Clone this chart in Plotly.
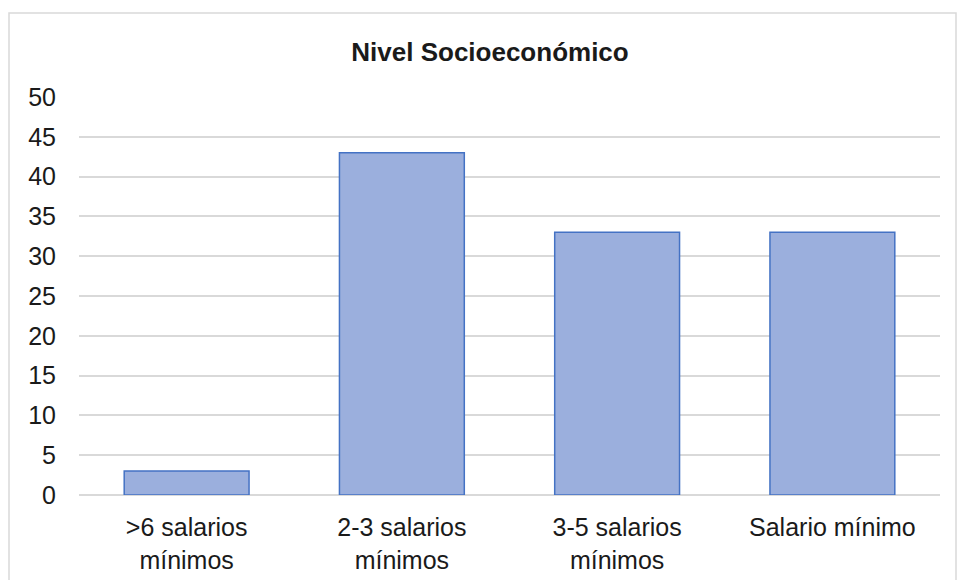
import plotly.graph_objects as go

categories = [">6 salarios<br>mínimos", "2-3 salarios<br>mínimos", "3-5 salarios<br>mínimos", "Salario mínimo"]
values = [3, 43, 33, 33]
y_ticks = [0, 5, 10, 15, 20, 25, 30, 35, 40, 45, 50]

W, H = 957, 580
L, R, T, B = 79, 17, 97, 85
pw, ph = W - L - R, H - T - B

def px_x(x):
    return (x - L) / pw

def px_y(y):
    return (H - B - y) / ph

fig = go.Figure(go.Bar(
    x=categories, y=values,
    marker=dict(color="#9bafdd", line=dict(color="#4472c4", width=1.5)),
    hoverinfo="skip",
))

fig.update_layout(
    width=W, height=H,
    margin=dict(l=L, r=R, t=T, b=B, autoexpand=False),
    paper_bgcolor="white", plot_bgcolor="white",
    font=dict(family="Liberation Sans, Arial, sans-serif", size=26, color="#1a1a1a"),
    title=dict(text="<b>Nivel Socioeconómico</b>", x=px_x(490), xref="paper", xanchor="center",
               y=1 - 52 / H, yanchor="middle", font=dict(size=26, color="#1a1a1a")),
    bargap=0.42,
    showlegend=False,
    shapes=[dict(type="rect", xref="paper", yref="paper",
                 x0=px_x(9), x1=px_x(956), y0=px_y(590), y1=px_y(13),
                 line=dict(color="#d9d9d9", width=1.5), fillcolor="rgba(0,0,0,0)", layer="below")],
)
fig.update_yaxes(range=[0, 50], tickvals=y_ticks, showgrid=True, gridcolor="#d9d9d9", gridwidth=1.5,
                 zeroline=True, zerolinecolor="#d9d9d9", zerolinewidth=1.5, showline=False,
                 ticklabelstandoff=22, fixedrange=True, tickfont=dict(size=25), automargin=False)
fig.update_xaxes(showgrid=False, showline=False, ticks="", ticklabelstandoff=15, fixedrange=True,
                 tickfont=dict(size=25), automargin=False)

fig.write_html("out.html", config={"displayModeBar": False})
